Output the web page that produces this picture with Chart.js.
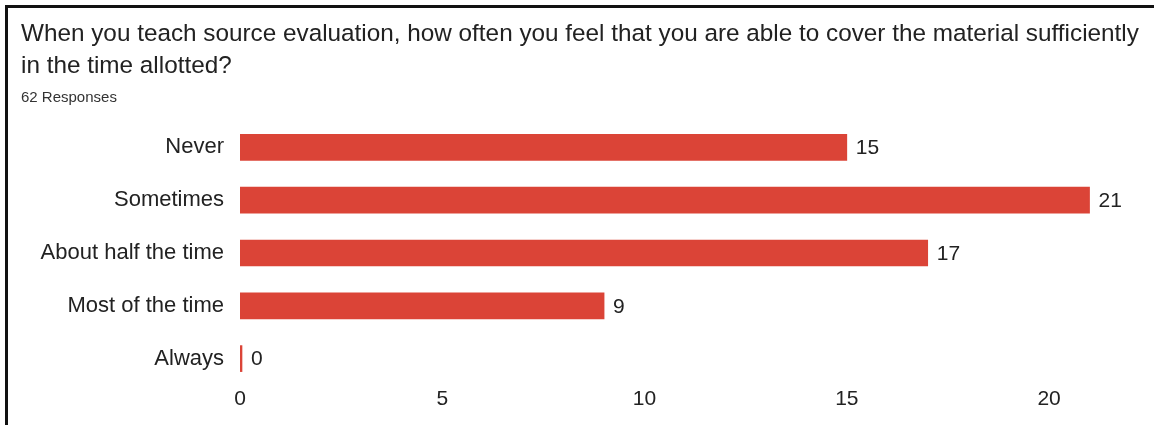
<!DOCTYPE html>
<html>
<head>
<meta charset="utf-8">
<script src="https://cdn.jsdelivr.net/npm/chart.js@4/dist/chart.umd.min.js"></script>
<style>
  html, body { margin: 0; padding: 0; background: #fff; }
  body { width: 1154px; height: 425px; position: relative; overflow: hidden; font-family: "Liberation Sans", Arial, Helvetica, sans-serif; }
  .frame-top { position: absolute; left: 5px; top: 5px; width: 1149px; height: 3px; background: #111; }
  .frame-left { position: absolute; left: 5px; top: 5px; width: 3px; height: 420px; background: #111; }
  .title { position: absolute; left: 21px; top: 17px; font-size: 24.3px; line-height: 32px; color: #222; white-space: nowrap; }
  .sub { position: absolute; left: 21px; top: 89px; font-size: 15px; line-height: 15px; color: #333; }
  #wrap { position: absolute; left: 0; top: 0; width: 1154px; height: 425px; }
</style>
</head>
<body>
<div id="wrap"><canvas id="chart" width="1154" height="425"></canvas></div>
<div class="frame-top"></div>
<div class="frame-left"></div>
<div class="title">When you teach source evaluation, how often you feel that you are able to cover the material sufficiently<br>in the time allotted?</div>
<div class="sub">62 Responses</div>
<script>
// Survey answers and response counts
const categories = ["Never", "Sometimes", "About half the time", "Most of the time", "Always"];
const responses = [15, 21, 17, 9, 0];
const tickValues = [0, 5, 10, 15, 20];

const barColor = "#db4437";
const fontFamily = '"Liberation Sans", Arial, Helvetica, sans-serif';
const fontSize = 21;

// Writes each bar's count just past its end
const valueLabels = {
  id: "valueLabels",
  afterDatasetsDraw(chart) {
    const ctx = chart.ctx;
    const meta = chart.getDatasetMeta(0);
    ctx.save();
    ctx.font = fontSize + "px " + fontFamily;
    ctx.fillStyle = "#222";
    ctx.textAlign = "left";
    ctx.textBaseline = "middle";
    meta.data.forEach((bar, i) => {
      ctx.fillText(String(responses[i]), bar.x + 9, bar.y + 1);
    });
    ctx.restore();
  }
};

new Chart(document.getElementById("chart"), {
  type: "bar",
  data: {
    labels: categories,
    datasets: [{
      data: responses,
      backgroundColor: barColor,
      borderWidth: 0,
      barThickness: 26,
      minBarLength: 2
    }]
  },
  options: {
    indexAxis: "y",
    responsive: false,
    animation: false,
    layout: { padding: { top: 121, right: 24, left: 0, bottom: 0 } },
    plugins: { legend: { display: false }, tooltip: { enabled: false } },
    scales: {
      x: {
        min: 0,
        max: 22,
        grid: { display: false, drawTicks: false },
        border: { display: false },
        afterBuildTicks(scale) {
          scale.ticks = tickValues.map(v => ({ value: v }));
        },
        afterFit(scale) { scale.height = 40; },
        ticks: {
          padding: 2,
          color: "#222",
          font: { family: fontFamily, size: fontSize }
        }
      },
      y: {
        grid: { display: false, drawTicks: false },
        border: { display: false },
        afterFit(scale) { scale.width = 240; },
        ticks: {
          padding: 16,
          color: "#222",
          font: { family: fontFamily, size: 22 }
        }
      }
    }
  },
  plugins: [valueLabels]
});
</script>
</body>
</html>
